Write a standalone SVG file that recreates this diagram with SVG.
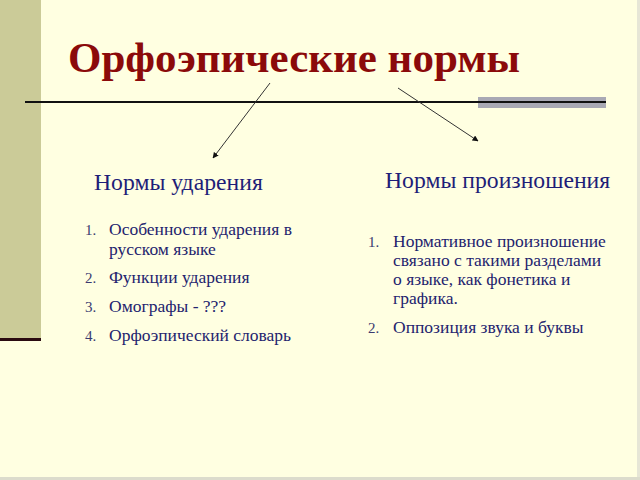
<svg xmlns="http://www.w3.org/2000/svg" width="640" height="480" viewBox="0 0 640 480">
<style>
.title{font-family:"Liberation Serif","Times New Roman",serif;font-weight:bold;font-size:43px;fill:#8B0A0A}
.head{font-family:"Liberation Serif","Times New Roman",serif;font-size:23.7px;fill:#1E1E78}
.item{font-family:"Liberation Serif","Times New Roman",serif;font-size:17.5px;fill:#23236E}
.num{font-family:"Liberation Serif","Times New Roman",serif;font-size:15px;fill:#3A3A70}
.conn{stroke:#333;stroke-width:1;fill:none;marker-end:url(#ah)}
</style>
<defs>
<marker id="ah" viewBox="0 0 10 10" refX="9" refY="5" markerWidth="6" markerHeight="6" markerUnits="userSpaceOnUse" orient="auto">
<path d="M0,0 L10,5 L0,10 z" fill="#111"/>
</marker>
</defs>
<rect x="0" y="0" width="640" height="480" fill="#FFFFE1"/>
<rect x="0" y="0" width="41" height="338" fill="#CBCB98"/>
<rect x="0" y="338" width="41" height="3" fill="#2A0A10"/>
<rect x="637" y="0" width="3" height="480" fill="#E6E6D6"/>
<rect x="0" y="477" width="640" height="3" fill="#DCDCCC"/>
<rect x="478" y="97" width="128" height="11" fill="#A9A9B4"/>
<rect x="25" y="101" width="581" height="2" fill="#111"/>
<g id="title"><text class="title" x="68" y="72">Орфоэпические нормы</text></g>
<g id="connectors">
<line class="conn" x1="270" y1="83" x2="213" y2="158"/>
<line class="conn" x1="398" y1="88" x2="478" y2="141"/>
</g>
<g id="heading-left"><text class="head" x="94" y="190">Нормы ударения</text></g>
<g id="heading-right"><text class="head" x="385" y="188">Нормы произношения</text></g>
<g id="list-left">
<text class="num" x="85" y="235">1.</text>
<text class="item" x="109" y="235">Особенности ударения в</text>
<text class="item" x="109" y="254.5">русском языке</text>
<text class="num" x="85" y="283">2.</text>
<text class="item" x="109" y="283">Функции ударения</text>
<text class="num" x="85" y="312">3.</text>
<text class="item" x="109" y="312">Омографы - ???</text>
<text class="num" x="85" y="341">4.</text>
<text class="item" x="109" y="341">Орфоэпический словарь</text>
</g>
<g id="list-right">
<text class="num" x="368" y="247">1.</text>
<text class="item" x="393" y="247">Нормативное произношение</text>
<text class="item" x="393" y="266">связано с такими разделами</text>
<text class="item" x="393" y="285">о языке, как фонетика и</text>
<text class="item" x="393" y="304">графика.</text>
<text class="num" x="368" y="333">2.</text>
<text class="item" x="393" y="333">Оппозиция звука и буквы</text>
</g>
</svg>
